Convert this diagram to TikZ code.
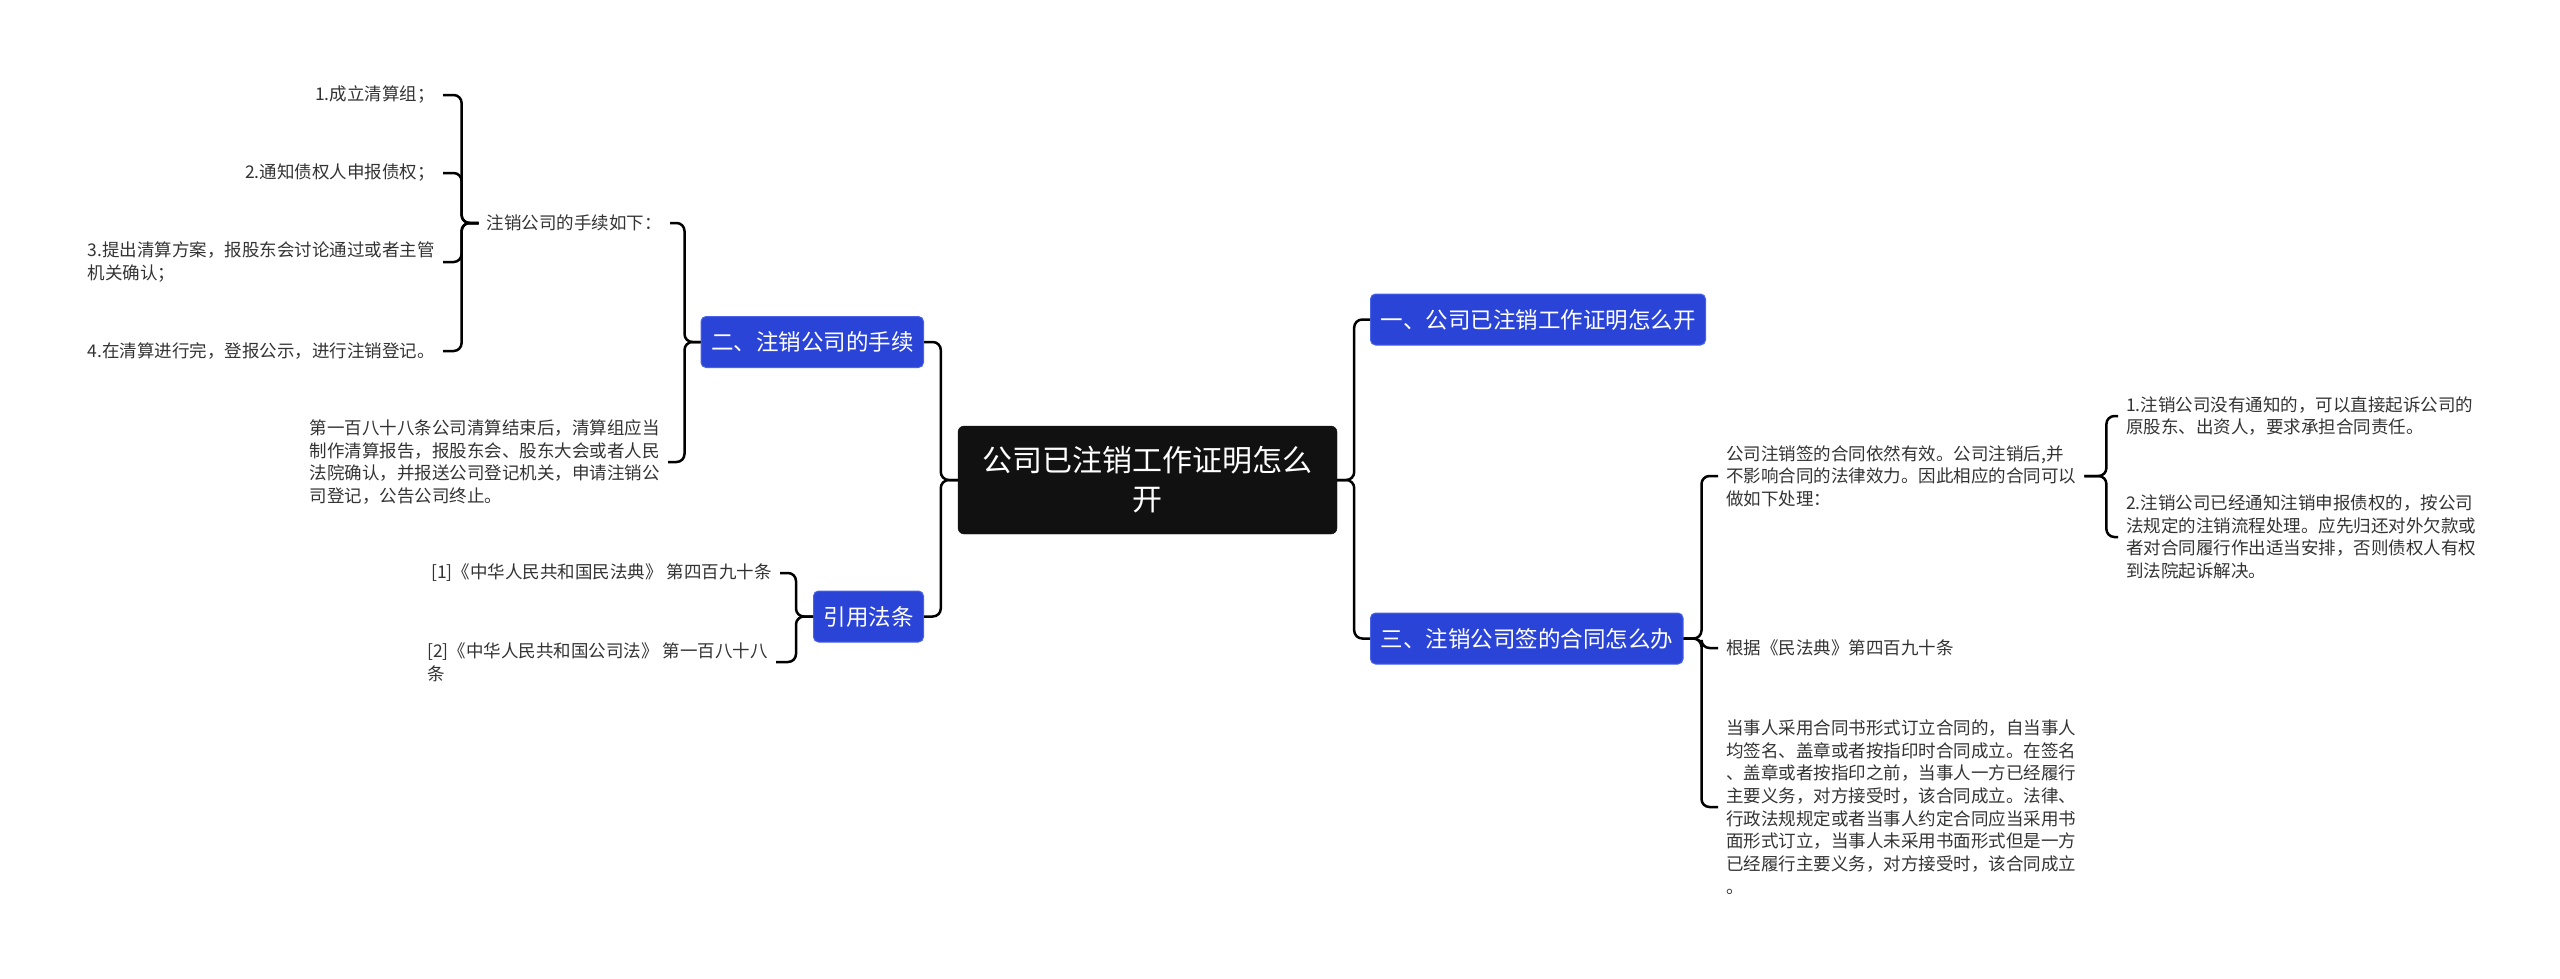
\documentclass[tikz,border=0pt]{standalone}
\usepackage{fontspec}
\newfontfamily\cjk{Noto Sans CJK SC}
\usetikzlibrary{calc}
\definecolor{topicblue}{HTML}{2B44D8}
\definecolor{topicedge}{HTML}{4A63E6}
\definecolor{rootfill}{HTML}{111111}
\definecolor{leaftext}{HTML}{333333}
\begin{document}
\begin{tikzpicture}[x=1pt,y=-1pt,
  rootbox/.style={fill=rootfill, draw=rootfill, rounded corners=6pt, text=white,
    font=\cjk\fontsize{30}{39}\selectfont, align=center,
    minimum width=379pt, minimum height=108pt, inner sep=0pt},
  topic/.style={fill=topicblue, draw=topicedge, line width=1pt, rounded corners=5pt,
    text=white, font=\cjk\fontsize{22.5}{27}\selectfont,
    minimum height=51pt, inner xsep=10pt, inner ysep=0pt},
  leaf/.style={text=leaftext, font=\cjk\fontsize{17.5}{22.7}\selectfont,
    align=left, inner xsep=8pt, inner ysep=3pt},
  conn/.style={draw=black, line width=2.5pt, rounded corners=8pt}]
\useasboundingbox (0,0) rectangle (2560,978);

% root
\node[rootbox] (root) at (1147.5,480) {公司已注销工作证明怎么\\开};

% level 1
\node[topic, anchor=west] (t1) at (1370,319.5) {一、公司已注销工作证明怎么开};
\node[topic, anchor=west] (t3) at (1370,638.5) {三、注销公司签的合同怎么办};
\node[topic, anchor=east] (t2) at (924,342) {二、注销公司的手续};
\node[topic, anchor=east] (t4) at (924,616.5) {引用法条};

% right branch of t3
\node[leaf, anchor=west] (a) at (1718,476) {公司注销签的合同依然有效。公司注销后,并\\不影响合同的法律效力。因此相应的合同可以\\做如下处理：};
\node[leaf, anchor=west] (b) at (1718,648) {根据《民法典》第四百九十条};
\node[leaf, anchor=west] (c) at (1718,807) {当事人采用合同书形式订立合同的，自当事人\\均签名、盖章或者按指印时合同成立。在签名\\、盖章或者按指印之前，当事人一方已经履行\\主要义务，对方接受时，该合同成立。法律、\\行政法规规定或者当事人约定合同应当采用书\\面形式订立，当事人未采用书面形式但是一方\\已经履行主要义务，对方接受时，该合同成立\\。};
\node[leaf, anchor=west] (d1) at (2118,416) {1.注销公司没有通知的，可以直接起诉公司的\\原股东、出资人，要求承担合同责任。};
\node[leaf, anchor=west] (d2) at (2118,537) {2.注销公司已经通知注销申报债权的，按公司\\法规定的注销流程处理。应先归还对外欠款或\\者对合同履行作出适当安排，否则债权人有权\\到法院起诉解决。};

% left branch of t2
\node[leaf, anchor=east] (e) at (670,223) {注销公司的手续如下：};
\node[leaf, anchor=east] (f) at (668,462) {第一百八十八条公司清算结束后，清算组应当\\制作清算报告，报股东会、股东大会或者人民\\法院确认，并报送公司登记机关，申请注销公\\司登记，公告公司终止。};
\node[leaf, anchor=east] (g1) at (443,95) {1.成立清算组；};
\node[leaf, anchor=east] (g2) at (443,173) {2.通知债权人申报债权；};
\node[leaf, anchor=east] (g3) at (443,262) {3.提出清算方案，报股东会讨论通过或者主管\\机关确认；};
\node[leaf, anchor=east] (g4) at (443,351) {4.在清算进行完，登报公示，进行注销登记。};

% left branch of t4
\node[leaf, anchor=east] (h1) at (780,573) {[1]《中华人民共和国民法典》 第四百九十条};
\node[leaf, anchor=east] (h2) at (776,662) {[2]《中华人民共和国公司法》 第一百八十八\\条};

% junctions
\coordinate (jr) at ($(root.east)+(17,0)$);
\coordinate (jl) at ($(root.west)+(-17,0)$);
\coordinate (j3) at ($(t3.east)+(18,0)$);
\coordinate (ja) at ($(a.east)+(22,0)$);
\coordinate (j2) at ($(t2.west)+(-16,0)$);
\coordinate (je) at ($(e.west)+(-17,0)$);
\coordinate (j4) at ($(t4.west)+(-17,0)$);

% connectors
\draw[conn] (root.east) -- (jr) |- (t1.west);
\draw[conn] (root.east) -- (jr) |- (t3.west);
\draw[conn] (root.west) -- (jl) |- (t2.east);
\draw[conn] (root.west) -- (jl) |- (t4.east);

\draw[conn] (t3.east) -- (j3) |- (a.west);
\draw[conn] (t3.east) -- (j3) |- (b.west);
\draw[conn] (t3.east) -- (j3) |- (c.west);
\draw[conn] (a.east) -- (ja) |- (d1.west);
\draw[conn] (a.east) -- (ja) |- (d2.west);

\draw[conn] (t2.west) -- (j2) |- (e.east);
\draw[conn] (t2.west) -- (j2) |- (f.east);
\draw[conn] (e.west) -- (je) |- (g1.east);
\draw[conn] (e.west) -- (je) |- (g2.east);
\draw[conn] (e.west) -- (je) |- (g3.east);
\draw[conn] (e.west) -- (je) |- (g4.east);

\draw[conn] (t4.west) -- (j4) |- (h1.east);
\draw[conn] (t4.west) -- (j4) |- (h2.east);
\end{tikzpicture}
\end{document}
